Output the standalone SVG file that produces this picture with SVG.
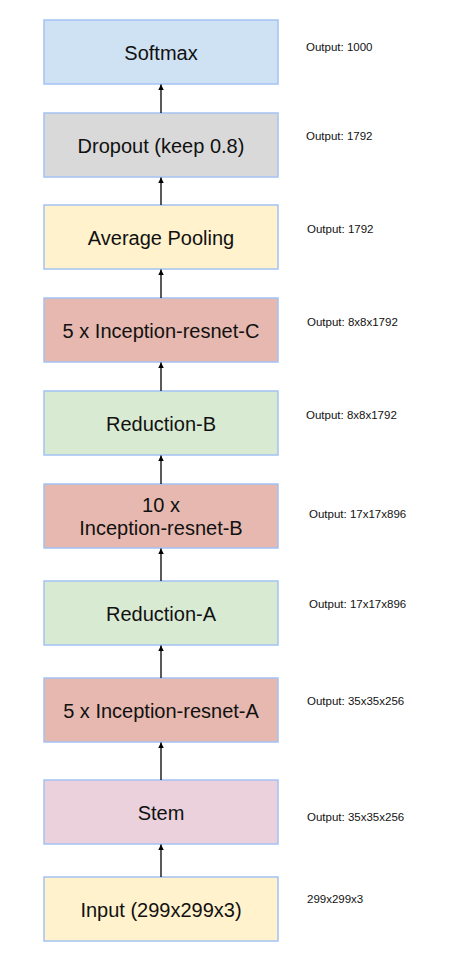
<svg xmlns="http://www.w3.org/2000/svg" width="452" height="974" viewBox="0 0 452 974">
<style>
.box{stroke:#a4c2f4;stroke-width:1.5}
.lbl{font-family:"Liberation Sans",Arial,sans-serif;font-size:20px;fill:#111;text-anchor:middle}
.out{font-family:"Liberation Sans",Arial,sans-serif;font-size:11.5px;fill:#111}
.conn{stroke:#000;stroke-width:1.3;fill:none}
</style>
<defs>
<marker id="ah" viewBox="0 0 8 10" refX="8" refY="5" markerWidth="6" markerHeight="7" orient="auto" markerUnits="userSpaceOnUse">
<path d="M0,1 L8,5 L0,9 z" fill="#000"/>
</marker>
</defs>
<rect width="452" height="974" fill="#fff"/>
<g id="softmax"><rect class="box" x="44" y="20" width="234" height="64" fill="#cfe2f3"/><text class="lbl" x="161" y="60">Softmax</text></g>
<g id="dropout"><rect class="box" x="44" y="113" width="234" height="64" fill="#d9d9d9"/><text class="lbl" x="161" y="153">Dropout (keep 0.8)</text></g>
<g id="avgpool"><rect class="box" x="44" y="205" width="234" height="64" fill="#fff2cc"/><text class="lbl" x="161" y="245">Average Pooling</text></g>
<g id="incC"><rect class="box" x="44" y="298" width="234" height="64" fill="#e6b8af"/><text class="lbl" x="161" y="338">5 x Inception-resnet-C</text></g>
<g id="redB"><rect class="box" x="44" y="391" width="234" height="64" fill="#d9ead3"/><text class="lbl" x="161" y="431">Reduction-B</text></g>
<g id="incB"><rect class="box" x="44" y="484" width="234" height="64" fill="#e6b8af"/><text class="lbl" x="161" y="512">10 x</text><text class="lbl" x="161" y="535">Inception-resnet-B</text></g>
<g id="redA"><rect class="box" x="44" y="581" width="234" height="64" fill="#d9ead3"/><text class="lbl" x="161" y="621">Reduction-A</text></g>
<g id="incA"><rect class="box" x="44" y="678" width="234" height="64" fill="#e6b8af"/><text class="lbl" x="161" y="718">5 x Inception-resnet-A</text></g>
<g id="stem"><rect class="box" x="44" y="780" width="234" height="64" fill="#ead1dc"/><text class="lbl" x="161" y="820">Stem</text></g>
<g id="input"><rect class="box" x="44" y="877" width="234" height="64" fill="#fff2cc"/><text class="lbl" x="161" y="917">Input (299x299x3)</text></g>
<g id="outputs">
<text class="out" x="306" y="50.5">Output: 1000</text>
<text class="out" x="306" y="140">Output: 1792</text>
<text class="out" x="307" y="233">Output: 1792</text>
<text class="out" x="307" y="325.5">Output: 8x8x1792</text>
<text class="out" x="306" y="418.5">Output: 8x8x1792</text>
<text class="out" x="309" y="518">Output: 17x17x896</text>
<text class="out" x="309" y="608">Output: 17x17x896</text>
<text class="out" x="307" y="704.5">Output: 35x35x256</text>
<text class="out" x="307" y="820.5">Output: 35x35x256</text>
<text class="out" x="307" y="903">299x299x3</text>
</g>
<g id="connectors">
<line class="conn" x1="161" y1="113" x2="161" y2="84.5" marker-end="url(#ah)"/>
<line class="conn" x1="161" y1="205" x2="161" y2="177.5" marker-end="url(#ah)"/>
<line class="conn" x1="161" y1="298" x2="161" y2="269.5" marker-end="url(#ah)"/>
<line class="conn" x1="161" y1="391" x2="161" y2="362.5" marker-end="url(#ah)"/>
<line class="conn" x1="161" y1="484" x2="161" y2="455.5" marker-end="url(#ah)"/>
<line class="conn" x1="161" y1="581" x2="161" y2="548.5" marker-end="url(#ah)"/>
<line class="conn" x1="161" y1="678" x2="161" y2="645.5" marker-end="url(#ah)"/>
<line class="conn" x1="161" y1="780" x2="161" y2="742.5" marker-end="url(#ah)"/>
<line class="conn" x1="161" y1="877" x2="161" y2="844.5" marker-end="url(#ah)"/>
</g>
</svg>
